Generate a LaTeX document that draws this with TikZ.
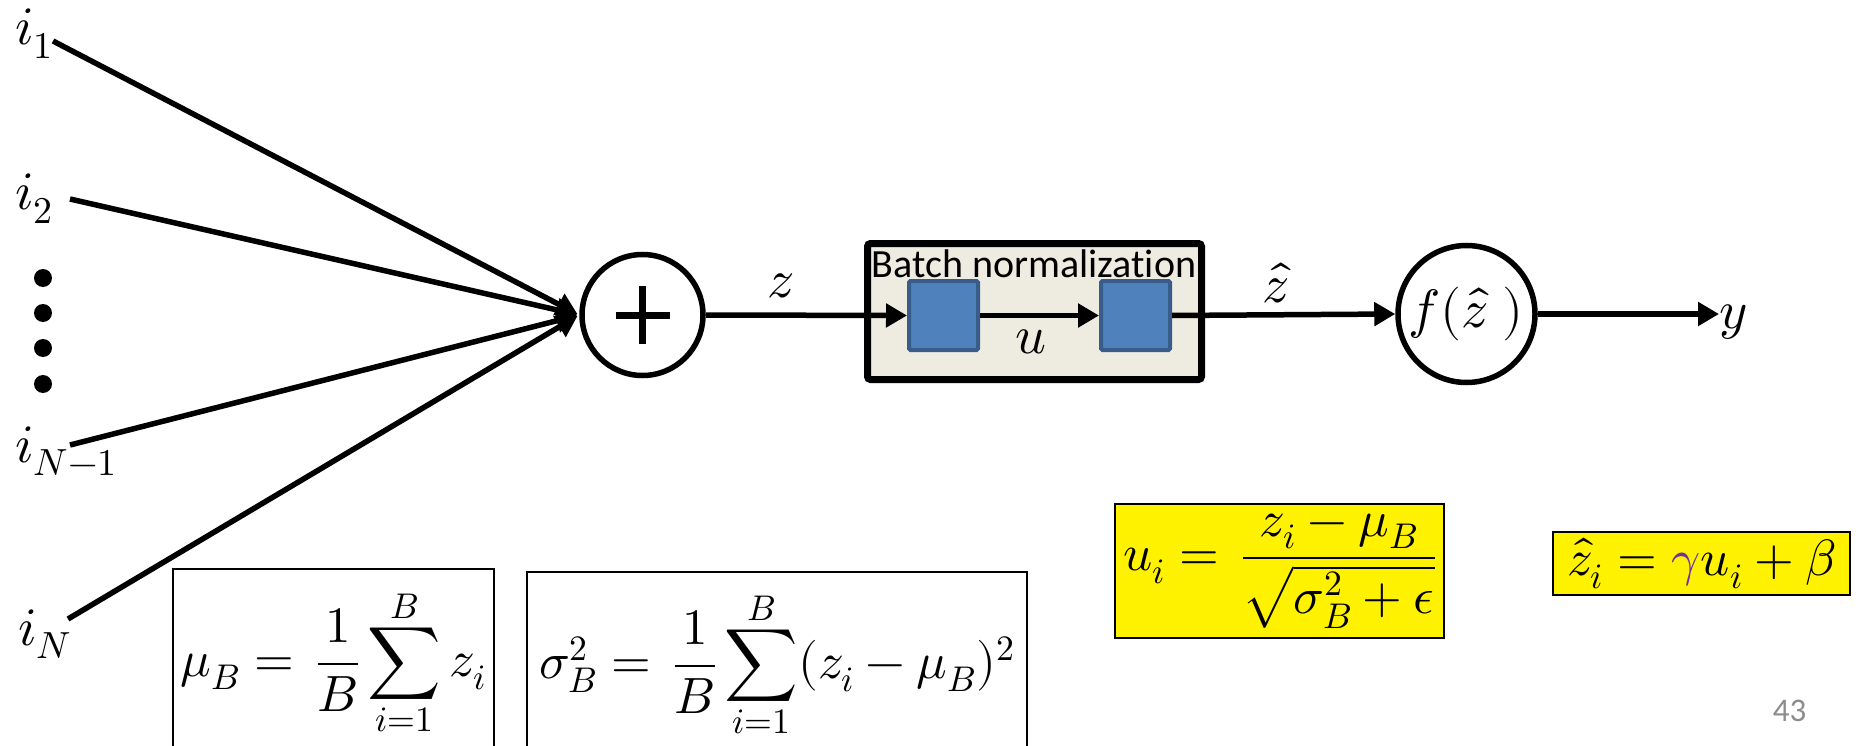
\documentclass[tikz,border=0pt]{standalone}
\usepackage{amsmath}
\usepackage{unicode-math}
\setmathfont{Latin Modern Math}
\newfontfamily\calibri[Ligatures=NoCommon]{Carlito}
\usepackage{tikz}
\usetikzlibrary{arrows.meta,calc,positioning}
\definecolor{bnfill}{HTML}{EEECE1}
\definecolor{bnblue}{HTML}{4F81BD}
\definecolor{bnblueline}{HTML}{385D8A}
\definecolor{gammacol}{HTML}{7030A0}
\definecolor{pagenum}{HTML}{8C8C8C}

\begin{document}
\begin{tikzpicture}[x=1pt,y=-1pt,
  lbl/.style={font=\fontsize{54}{60}\selectfont,inner sep=0pt},
  flow/.style={line width=5.5pt,-{Triangle[length=21pt,width=23pt]}},
  neuron/.style={circle,draw,line width=5.5pt,inner sep=0pt},
  sq/.style={draw=bnblueline,fill=bnblue,line width=4pt,minimum size=69pt,rounded corners=1.5pt,inner sep=0pt},
  eqbox/.style={draw,line width=2pt,inner sep=0pt,font=\fontsize{51}{58}\selectfont}]
  \useasboundingbox (0,0) rectangle (1863,746);
  \fill[white] (0,0) rectangle (1863,746);
  \clip (0,0) rectangle (1863,746);

  \node[lbl,anchor=base west] (i1) at (15,45) {$i_1$};
  \node[lbl,anchor=base west] (i2) at (15,210) {$i_2$};
  \node[lbl,anchor=base west] (iN1) at (15,462) {$i_{N-1}$};
  \node[lbl,anchor=base west] (iN) at (18,645) {$i_N$};
  \foreach \yy in {278,313,348,384}
    \fill (43,\yy) circle[radius=9pt];
  \coordinate (s1) at (53,41);
  \coordinate (s2) at (70,199);
  \coordinate (s3) at (70,445);
  \coordinate (s4) at (68,619);

  \node[neuron,minimum size=121pt] (sum) at (642.5,315) {};
  \draw[line width=7pt] ([xshift=-27pt]sum.center) -- ([xshift=27pt]sum.center);
  \draw[line width=7pt] ([yshift=-29pt]sum.center) -- ([yshift=29pt]sum.center);
  \foreach \s in {s1,s2,s3,s4}
    \draw[flow,shorten >=2pt] (\s) -- (sum.west);

  \node[draw,fill=bnfill,line width=7pt,rounded corners=3pt,minimum width=334pt,minimum height=136pt] (bn) at (1034.5,311.5) {};
  \node[font=\calibri\fontsize{40}{48}\selectfont,anchor=base,inner sep=0pt] (bntxt) at (1034,277) {Batch normalization};
  \node[sq] (sq1) at (943.5,315.5) {};
  \node[sq] (sq2) at (1135.5,315.5) {};
  \node[neuron,minimum size=137pt,font=\fontsize{54}{60}\selectfont] (f) at (1466.5,314) {$f(\hat{z}\;)$};
  \node[lbl,anchor=base west] (ylab) at (1719,328) {$y$};

  \draw[flow] (sum.east) -- (sq1.west);
  \draw[flow] (sq1.east) -- (sq2.west);
  \draw[flow] (sq2.east) -- (f.west);
  \draw[flow] (f.east) -- (f.east -| ylab.west);

  \node[lbl,anchor=base] (zlab) at (781,297) {$z$};
  \node[lbl,anchor=base] (ulab) at (1031,353) {$u$};
  \node[lbl,anchor=base] (zhlab) at (1276,302) {$\hat{z}$};

  \node[eqbox,fill=yellow,minimum width=329pt,minimum height=134pt] (ueq) at (1279.5,571) {$u_i =\, \dfrac{z_i-\mu_B}{\sqrt{\sigma_B^2+\epsilon}}$};
  \node[eqbox,fill=yellow,minimum width=297pt,minimum height=63pt] (zeq) at (1701.5,563.5) {$\hat{z}_i = \textcolor{gammacol}{\gamma}u_i + \beta$};
  \node[eqbox,minimum width=321pt,minimum height=188pt] (mueq) at (333.5,663) {$\displaystyle\mu_B =\, \frac{1}{B}\sum_{i=1}^{B} z_i$};
  \node[eqbox,minimum width=500pt,minimum height=186pt] (sigeq) at (777,665) {$\displaystyle\sigma_B^2 =\, \frac{1}{B}\sum_{i=1}^{B}(z_i-\mu_B)^2$};

  \node[font=\calibri\fontsize{33}{40}\selectfont,text=pagenum,inner sep=0pt] (pgnum) at (1789.5,711) {43};
\end{tikzpicture}
\end{document}
